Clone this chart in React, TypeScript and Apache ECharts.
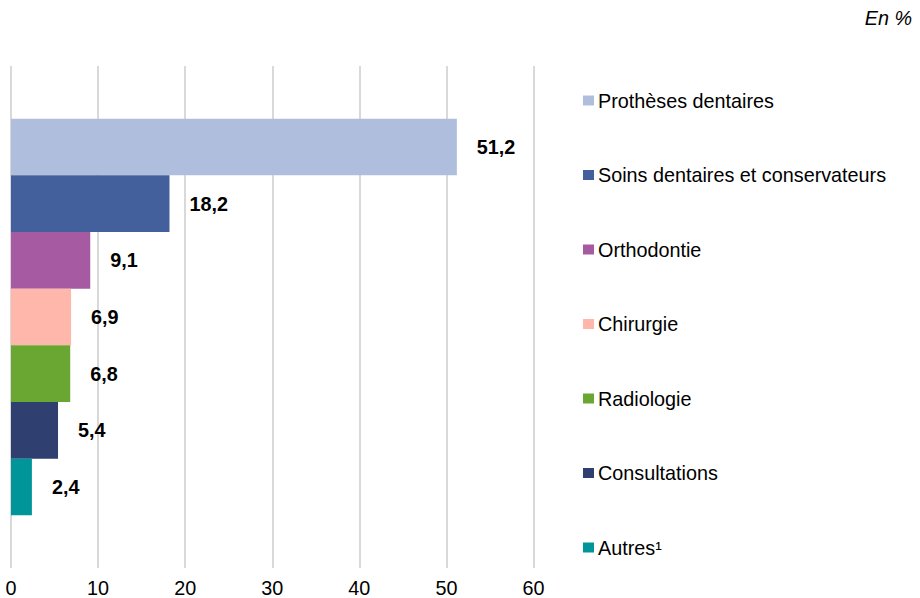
import React, { useEffect, useRef } from "react";
import * as echarts from "echarts";

const seriesNames = [
  "Prothèses dentaires",
  "Soins dentaires et conservateurs",
  "Orthodontie",
  "Chirurgie",
  "Radiologie",
  "Consultations",
  "Autres¹",
];
const seriesValues = [51.2, 18.2, 9.1, 6.9, 6.8, 5.4, 2.4];
const seriesColors = ["#B0BEDD", "#44609C", "#A65AA2", "#FFB7AB", "#6AA632", "#2E3F70", "#009599"];
const xTicks = { min: 0, max: 60, interval: 10 };
const unitLabel = "En %";

const FONT = "'Liberation Sans', Arial, sans-serif";
const FS = 19.8;

export default function App() {
  const ref = useRef<HTMLDivElement>(null);
  useEffect(() => {
    if (!ref.current) return;
    document.body.style.margin = "0";
    const chart = echarts.init(ref.current, undefined, { renderer: "svg" });
    chart.setOption({
      animation: false,
      textStyle: { fontFamily: FONT },
      grid: { left: 11, top: 66, width: 522.5, height: 502, containLabel: false, outerBoundsMode: "none" },
      xAxis: {
        type: "value",
        min: xTicks.min,
        max: xTicks.max,
        interval: xTicks.interval,
        axisLine: { show: false },
        axisTick: { show: false },
        splitLine: { show: true, lineStyle: { color: "#D9D9D9", width: 2 } },
        axisLabel: { color: "#000", fontSize: FS, fontFamily: FONT, margin: 10 },
      },
      yAxis: {
        type: "category",
        data: [""],
        axisLine: { show: false },
        axisTick: { show: false },
        axisLabel: { show: false },
      },
      legend: {
        orient: "vertical",
        left: 578,
        top: 85.5,
        itemWidth: 11,
        itemHeight: 10,
        itemGap: 54.5,
        icon: "rect",
        textStyle: { color: "#000", fontSize: FS, fontFamily: FONT, padding: [0, 0, 0, -1] },
        data: seriesNames,
      },
      graphic: [
        {
          type: "text",
          right: 8,
          top: 8,
          style: { text: unitLabel, fontSize: FS, fontStyle: "italic", fontFamily: FONT, fill: "#000" },
        },
      ],
      series: seriesNames.map((name, i) => ({
        type: "bar",
        name,
        data: [seriesValues[i]],
        barGap: "0%",
        barCategoryGap: "21%",
        itemStyle: { color: seriesColors[i] },
        label: {
          show: true,
          position: "right",
          distance: 20,
          color: "#000",
          fontWeight: "bold",
          fontSize: FS,
          fontFamily: FONT,
          formatter: (p: any) => String(p.value).replace(".", ","),
        },
      })),
    });
    return () => chart.dispose();
  }, []);
  return <div ref={ref} style={{ width: 920, height: 598 }} />;
}
